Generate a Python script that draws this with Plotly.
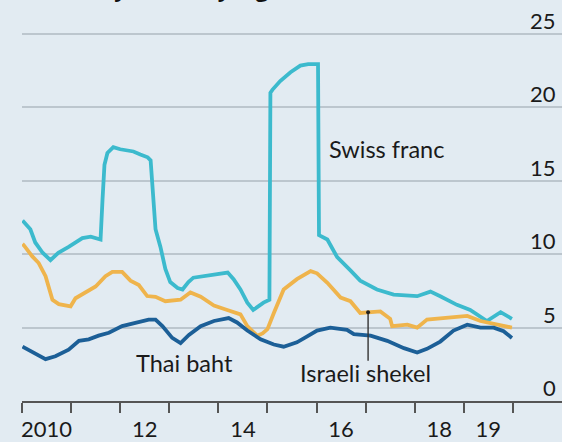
import plotly.graph_objects as go

# Swiss franc (decimal year, volatility %)
chf_year = [2010.01, 2010.17, 2010.27, 2010.42, 2010.58, 2010.74, 2010.95, 2011.23, 2011.40,
            2011.56, 2011.60, 2011.64, 2011.68, 2011.74, 2011.86, 2012.00, 2012.27, 2012.41,
            2012.56, 2012.62, 2012.66, 2012.72, 2012.82, 2012.92, 2013.02, 2013.17, 2013.27,
            2013.39, 2013.49, 2013.90, 2014.19, 2014.31, 2014.45, 2014.59, 2014.71, 2014.92,
            2015.04, 2015.06, 2015.10, 2015.26, 2015.47, 2015.67, 2015.83, 2016.03, 2016.05,
            2016.22, 2016.42, 2016.69, 2016.89, 2017.23, 2017.57, 2018.05, 2018.32, 2018.52,
            2018.86, 2019.13, 2019.34, 2019.47, 2019.75, 2019.98]
chf_vol = [12.3, 11.7, 10.8, 10.1, 9.6, 10.1, 10.5, 11.1, 11.2,
           11.0, 11.0, 13.7, 16.1, 16.9, 17.3, 17.15, 17.0, 16.8,
           16.6, 16.4, 14.4, 11.7, 10.5, 9.0, 8.1, 7.7, 7.6,
           8.1, 8.4, 8.6, 8.75, 8.3, 7.6, 6.7, 6.2, 6.7,
           6.9, 21.0, 21.2, 21.8, 22.4, 22.85, 22.95, 22.95, 11.3,
           11.0, 9.8, 8.9, 8.2, 7.6, 7.25, 7.14, 7.45, 7.14,
           6.55, 6.2, 5.75, 5.45, 6.05, 5.6]

# Israeli shekel
ils_year = [2010.01, 2010.04, 2010.21, 2010.34, 2010.48, 2010.62, 2010.75, 2010.99, 2011.09,
            2011.29, 2011.50, 2011.70, 2011.84, 2012.04, 2012.21, 2012.38, 2012.55, 2012.72,
            2012.92, 2013.23, 2013.43, 2013.64, 2013.91, 2014.18, 2014.45, 2014.59, 2014.79,
            2014.90, 2015.00, 2015.13, 2015.33, 2015.60, 2015.88, 2016.01, 2016.22, 2016.49,
            2016.69, 2016.89, 2017.10, 2017.30, 2017.50, 2017.54, 2017.85, 2018.05, 2018.25,
            2018.66, 2019.07, 2019.34, 2019.68, 2019.98]
ils_vol = [10.7, 10.6, 9.85, 9.4, 8.5, 6.9, 6.6, 6.45, 7.0,
           7.4, 7.8, 8.5, 8.8, 8.8, 8.2, 7.9, 7.15, 7.1,
           6.8, 6.9, 7.4, 7.1, 6.5, 6.2, 5.9, 5.1, 4.45,
           4.6, 4.9, 6.0, 7.6, 8.3, 8.85, 8.7, 8.05, 7.05,
           6.8, 6.0, 6.05, 6.1, 5.6, 5.1, 5.2, 5.0, 5.55,
           5.65, 5.8, 5.45, 5.2, 5.0]

# Thai baht
thb_year = [2010.01, 2010.07, 2010.27, 2010.48, 2010.68, 2010.95, 2011.16, 2011.36, 2011.56,
            2011.77, 2012.04, 2012.31, 2012.58, 2012.72, 2012.86, 2013.06, 2013.23, 2013.40,
            2013.64, 2013.91, 2014.21, 2014.38, 2014.59, 2014.86, 2015.13, 2015.33, 2015.60,
            2015.81, 2016.01, 2016.28, 2016.62, 2016.76, 2017.10, 2017.44, 2017.78, 2018.05,
            2018.25, 2018.52, 2018.79, 2019.07, 2019.34, 2019.61, 2019.81, 2019.98]
thb_vol = [3.7, 3.6, 3.2, 2.85, 3.05, 3.5, 4.1, 4.2, 4.45,
           4.65, 5.1, 5.35, 5.55, 5.55, 5.1, 4.3, 3.95, 4.5,
           5.1, 5.45, 5.65, 5.35, 4.8, 4.2, 3.85, 3.7, 4.0,
           4.4, 4.8, 5.0, 4.85, 4.55, 4.45, 4.1, 3.6, 3.3,
           3.55, 4.05, 4.8, 5.2, 5.0, 5.0, 4.75, 4.3]

year_ticks = list(range(2010, 2021))
label_pos = [2010.5, 2012.5, 2014.5, 2016.5, 2018.5, 2019.5]
label_text = ["2010", "12", "14", "16", "18", "19"]
y_ticks = [0, 5, 10, 15, 20, 25]

# shekel call-out pointer
pointer_year = 2017.05
pointer_top, pointer_bottom = 6.05, 2.75

BG = "#e2ebf2"
FONT = "Lato, Open Sans, sans-serif"

fig = go.Figure()
fig.add_trace(go.Scatter(x=chf_year, y=chf_vol, mode="lines",
                         line=dict(color="#3cbacd", width=3.8), name="Swiss franc"))
fig.add_trace(go.Scatter(x=ils_year, y=ils_vol, mode="lines",
                         line=dict(color="#efb44c", width=3.8), name="Israeli shekel"))
fig.add_trace(go.Scatter(x=thb_year, y=thb_vol, mode="lines",
                         line=dict(color="#1c5f97", width=3.8), name="Thai baht"))

fig.add_trace(go.Scatter(x=[pointer_year, pointer_year], y=[pointer_top, pointer_bottom],
                         mode="lines", line=dict(color="#333333", width=1.4),
                         showlegend=False, hoverinfo="skip"))
fig.add_trace(go.Scatter(x=[pointer_year], y=[pointer_top], mode="markers",
                         marker=dict(color="#222222", size=4),
                         showlegend=False, hoverinfo="skip"))

txt = dict(family=FONT, size=23.5, color="#1a1a1a")
fig.add_annotation(x=2016.21, y=17.15, text="Swiss franc", showarrow=False,
                   xanchor="left", yanchor="middle", font=txt)
fig.add_annotation(x=2013.3, y=2.6, text="Thai baht", showarrow=False,
                   xanchor="center", yanchor="middle", font=txt)
fig.add_annotation(x=2017.0, y=1.9, text="Israeli shekel", showarrow=False,
                   xanchor="center", yanchor="middle", font=txt)

# value labels sit just above each gridline at the right edge
for v in y_ticks:
    fig.add_annotation(xref="paper", x=1, xshift=-4, y=v, yshift=-2, text=str(v),
                       showarrow=False, xanchor="right", yanchor="bottom",
                       font=dict(family=FONT, size=22, color="#1a1a1a"))

# headline sits above the page edge; only its descenders reach into view
fig.add_annotation(xref="paper", yref="paper", x=0, y=1, xshift=3, yshift=-5,
                   text="<b>Currency volatility, against the dollar, %</b>",
                   showarrow=False, xanchor="left", yanchor="bottom",
                   font=dict(family="Open Sans, sans-serif", size=22, color="#111111"))

fig.update_layout(
    width=562, height=442,
    margin=dict(l=22, r=0, t=0, b=39),
    paper_bgcolor=BG, plot_bgcolor=BG,
    showlegend=False,
    xaxis=dict(range=[2010, 2021], tickmode="array", tickvals=label_pos, ticktext=label_text,
               ticks="", showgrid=False, zeroline=False, ticklabelstandoff=8,
               showline=True, linecolor="#555555", linewidth=2,
               tickfont=dict(family=FONT, size=22, color="#1a1a1a"),
               minor=dict(tickmode="array", tickvals=year_ticks, ticks="outside",
                          ticklen=10, tickwidth=2, tickcolor="#555555", showgrid=False)),
    yaxis=dict(range=[0, 27.32], tickmode="array", tickvals=y_ticks, side="right",
               showticklabels=False, ticks="",
               showgrid=True, gridcolor="#bcc6ce", gridwidth=1.5, zeroline=False),
)

fig.write_html("out.html")
